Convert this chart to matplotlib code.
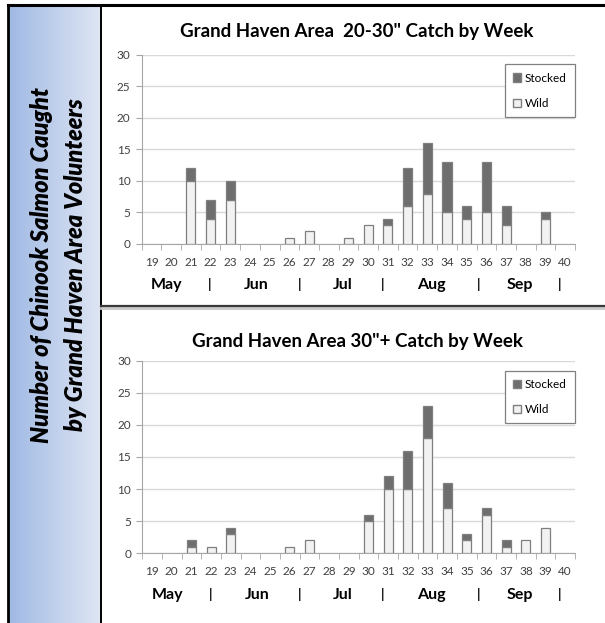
import numpy as np
import matplotlib
matplotlib.use("Agg")
import matplotlib.pyplot as plt
from matplotlib.patches import Patch
from matplotlib.lines import Line2D

plt.rcParams['font.family'] = ['Lato', 'DejaVu Sans']

weeks = [str(w) for w in range(19, 41)]
months = ["May", "|", "Jun", "|", "Jul", "|", "Aug", "|", "Sep", "|"]

wild_20_30 = [0, 0, 10, 4, 7, 0, 0, 1, 2, 0, 1, 3, 3, 6, 8, 5, 4, 5, 3, 0, 4, 0]
stocked_20_30 = [0, 0, 2, 3, 3, 0, 0, 0, 0, 0, 0, 0, 1, 6, 8, 8, 2, 8, 3, 0, 1, 0]

wild_30_plus = [0, 0, 1, 1, 3, 0, 0, 1, 2, 0, 0, 5, 10, 10, 18, 7, 2, 6, 1, 2, 4, 0]
stocked_30_plus = [0, 0, 1, 0, 1, 0, 0, 0, 0, 0, 0, 1, 2, 6, 5, 4, 1, 1, 1, 0, 0, 0]

titles = ['Grand Haven Area  20-30" Catch by Week', 'Grand Haven Area 30"+ Catch by Week']
side_lines = ["Number of Chinook Salmon Caught", "by Grand Haven Area Volunteers"]

W, H = 605, 623
fig = plt.figure(figsize=(W / 100, H / 100), dpi=100)
fig.patch.set_facecolor("white")

def fx(px):
    return px / W

def fy(py):
    return 1 - py / H

# gradient side panel
gax = fig.add_axes([fx(8), 0, fx(100) - fx(8), fy(5)])
grad = np.linspace(0, 1, 256)[None, :, None]
c0 = np.array([160, 185, 228]) / 255
c1 = np.array([222, 229, 243]) / 255
img = c0 + (c1 - c0) * grad
img = np.repeat(img, 2, axis=0)
gax.imshow(img, aspect="auto", extent=[0, 1, 0, 1])
gax.set_axis_off()

# frame lines
fig.add_artist(Line2D([fx(8), 1], [fy(5), fy(5)], color="black", lw=2.2))
fig.add_artist(Line2D([fx(8), fx(8)], [0, fy(5)], color="black", lw=2.0))
fig.add_artist(Line2D([fx(100.7), fx(100.7)], [0, fy(5)], color="black", lw=1.4))
# separator with shadow
fig.add_artist(Line2D([fx(101), 1], [fy(308.5), fy(308.5)], color="#c8c8c8", lw=2.0))
fig.add_artist(Line2D([fx(101), 1], [fy(306.5), fy(306.5)], color="#3a3a3a", lw=1.6))

# side text
for txt, xpx in zip(side_lines, [42, 76]):
    fig.text(fx(xpx), fy(265), txt, rotation=90, ha="center", va="center",
             fontsize=17, fontweight="heavy", fontstyle="italic", color="black")

month_pos = [0.77, 2.97, 5.34, 7.5, 9.7, 11.73, 14.2, 16.59, 18.7, 20.73]

def draw(ax, wild, stocked, title, title_y, leg_top):
    x = np.arange(len(weeks))
    wild = np.asarray(wild, dtype=float)
    stocked = np.asarray(stocked, dtype=float)
    mw = wild > 0
    ms = stocked > 0
    ax.set_axisbelow(True)
    ax.bar(x[mw], wild[mw], width=0.46, color="#f2f2f2", edgecolor="#7f7f7f", linewidth=0.9, zorder=3)
    ax.bar(x[ms], stocked[ms], width=0.46, bottom=wild[ms], color="#6e6e6e", edgecolor="#7f7f7f",
           linewidth=0.9, zorder=3)
    ax.set_xlim(-0.5, len(weeks) - 0.5)
    ax.set_ylim(0, 30)
    ax.set_yticks(range(0, 31, 5))
    ax.yaxis.grid(True, color="#d9d9d9", lw=1.0)
    ax.set_xticks(x)
    ax.set_xticklabels(weeks)
    ax.set_xticks(np.arange(-0.5, len(weeks)), minor=True)
    ax.tick_params(axis="x", which="major", length=0, pad=9, labelsize=8.5, labelcolor="#404040")
    ax.tick_params(axis="x", which="minor", length=4, color="#a6a6a6", direction="out")
    ax.tick_params(axis="y", length=4, color="#a6a6a6", labelsize=8.5, labelcolor="#404040", pad=4)
    for s in ["top", "right"]:
        ax.spines[s].set_visible(False)
    ax.spines["left"].set_color("#a6a6a6")
    ax.spines["bottom"].set_color("#a6a6a6")
    for mp, m in zip(month_pos, months):
        if m == "|":
            ax.text(mp, -0.215, m, transform=ax.get_xaxis_transform(), ha="center", va="center",
                    fontsize=9.5, fontweight="bold", color="black")
        else:
            ax.text(mp, -0.218, m, transform=ax.get_xaxis_transform(), ha="center", va="center",
                    fontsize=11.5, fontweight="bold", color="black")
    handles = [Patch(facecolor="#6e6e6e", edgecolor="#7f7f7f", label="Stocked"),
               Patch(facecolor="#f2f2f2", edgecolor="#7f7f7f", label="Wild")]
    leg = ax.legend(handles=handles, loc="upper right", bbox_to_anchor=(1.0, leg_top),
                    borderaxespad=0.0,
                    fontsize=8.5, handlelength=0.7, handleheight=0.7, handletextpad=0.3,
                    labelspacing=1.2, borderpad=0.7, fancybox=False, framealpha=1,
                    edgecolor="#808080")
    leg.get_frame().set_linewidth(0.9)
    fig.text(fx(357), fy(title_y), title, ha="center", va="center", fontsize=13.5,
             fontweight="bold", color="black")

ax1 = fig.add_axes([fx(141.7), fy(244), fx(575) - fx(141.7), (244 - 54.7) / H])
draw(ax1, wild_20_30, stocked_20_30, titles[0], 32, 0.949)
ax2 = fig.add_axes([fx(142.3), fy(553.3), fx(575) - fx(142.3), (553.3 - 360.7) / H])
draw(ax2, wild_30_plus, stocked_30_plus, titles[1], 341.5, 0.948)

fig.savefig("out.png", dpi=100)
